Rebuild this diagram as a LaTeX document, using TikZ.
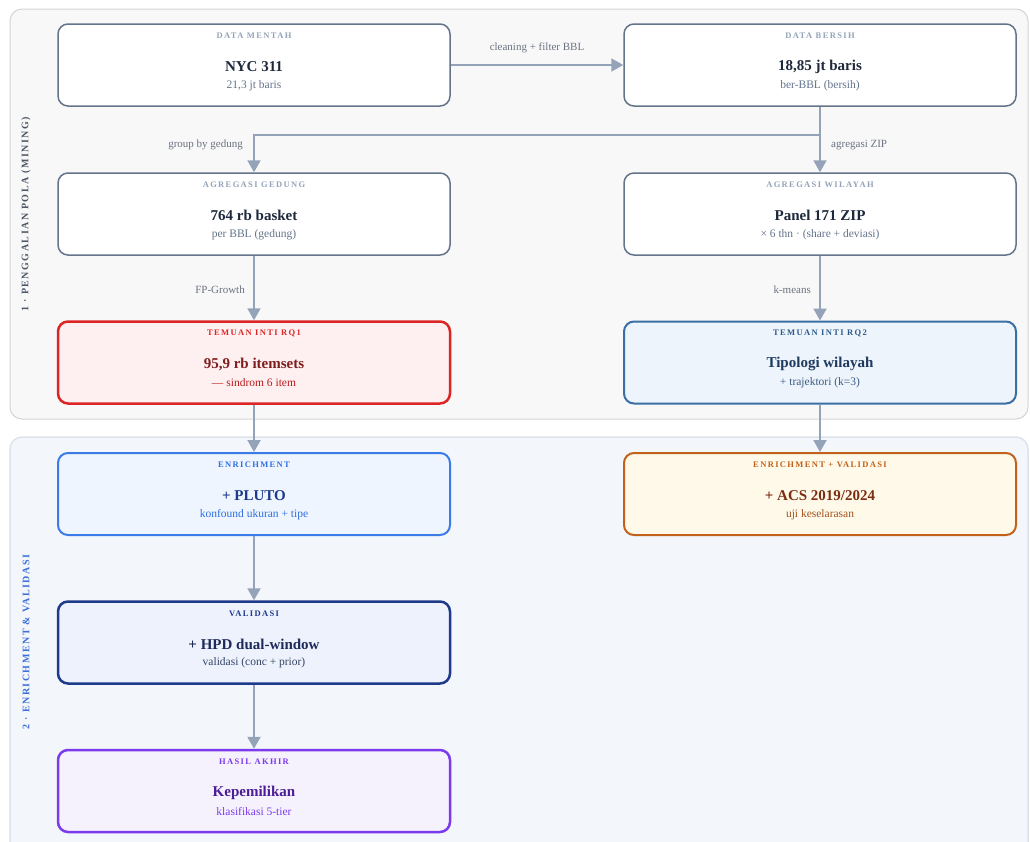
\documentclass[tikz,border=0pt]{standalone}
\usepackage{fontspec}
\setmainfont{Liberation Serif}
\newfontfamily\hdrfont[LetterSpace=16]{Liberation Serif}
\newfontfamily\sidefont[LetterSpace=15]{Liberation Serif}
\usetikzlibrary{arrows.meta}
\definecolor{panAbd}{HTML}{D4D4D8}
\definecolor{panAfill}{HTML}{F8F8F9}
\definecolor{panBbd}{HTML}{DDE3EC}
\definecolor{panBfill}{HTML}{F3F6FB}
\definecolor{arrc}{HTML}{94A3B8}
\definecolor{lblc}{HTML}{6B7280}
\definecolor{nbd}{HTML}{64748B}
\definecolor{nhd}{HTML}{94A3B8}
\definecolor{nti}{HTML}{1E293B}
\definecolor{nsu}{HTML}{64748B}
\definecolor{rbd}{HTML}{DC2626}
\definecolor{rfill}{HTML}{FEF0F0}
\definecolor{rti}{HTML}{7F1D1D}
\definecolor{rsu}{HTML}{B91C1C}
\definecolor{bbd}{HTML}{3B6EA5}
\definecolor{bfill}{HTML}{EDF4FC}
\definecolor{bhd}{HTML}{2C5A8A}
\definecolor{bti}{HTML}{1E3A5F}
\definecolor{bsu}{HTML}{3B5B80}
\definecolor{ebd}{HTML}{3B7BE8}
\definecolor{efill}{HTML}{EEF5FF}
\definecolor{ehd}{HTML}{2F6FE0}
\definecolor{eti}{HTML}{1E3A8A}
\definecolor{obd}{HTML}{C2621A}
\definecolor{ofill}{HTML}{FEF9E8}
\definecolor{oti}{HTML}{7C2D12}
\definecolor{osu}{HTML}{A0521F}
\definecolor{vbd}{HTML}{1E3A8A}
\definecolor{vfill}{HTML}{EEF2FC}
\definecolor{vti}{HTML}{1E2A5A}
\definecolor{vsu}{HTML}{334466}
\definecolor{pbd}{HTML}{7C3AED}
\definecolor{pfill}{HTML}{F5F2FE}
\definecolor{pti}{HTML}{4C1D95}
\definecolor{side1}{HTML}{4B5563}
\definecolor{side2}{HTML}{3B6FD8}
\tikzset{
  box/.style={rounded corners=10pt, minimum width=392pt, minimum height=82pt, inner sep=0pt},
  hdr/.style={font=\hdrfont\bfseries\fontsize{8.5}{9}\selectfont, inner sep=0pt, anchor=center},
  ttl/.style={font=\bfseries\fontsize{15}{17}\selectfont, inner sep=0pt, anchor=center},
  sub/.style={font=\fontsize{11.5}{13}\selectfont, inner sep=0pt, anchor=center},
  neutral/.style={draw=nbd, fill=white, line width=1.5pt},
  neutral h/.style={text=nhd}, neutral t/.style={text=nti}, neutral s/.style={text=nsu},
  red/.style={draw=rbd, fill=rfill, line width=2.5pt},
  red h/.style={text=rbd}, red t/.style={text=rti}, red s/.style={text=rsu},
  blu/.style={draw=bbd, fill=bfill, line width=2pt},
  blu h/.style={text=bhd}, blu t/.style={text=bti}, blu s/.style={text=bsu},
  enr/.style={draw=ebd, fill=efill, line width=2pt},
  enr h/.style={text=ehd}, enr t/.style={text=eti}, enr s/.style={text=ehd},
  org/.style={draw=obd, fill=ofill, line width=2pt},
  org h/.style={text=obd}, org t/.style={text=oti}, org s/.style={text=osu},
  val/.style={draw=vbd, fill=vfill, line width=2.5pt},
  val h/.style={text=vbd}, val t/.style={text=vti}, val s/.style={text=vsu},
  pur/.style={draw=pbd, fill=pfill, line width=2.5pt},
  pur h/.style={text=pbd}, pur t/.style={text=pti}, pur s/.style={text=pbd},
  arr/.style={draw=arrc, line width=2pt, -{Triangle[length=12pt,width=13pt]}},
  lbl/.style={font=\fontsize{11}{12}\selectfont, text=lblc, inner sep=0pt},
  sidelbl/.style={font=\sidefont\bfseries\fontsize{10}{11}\selectfont, inner sep=0pt, rotate=90},
}
\newcommand\mkbox[7]{%
  \node[box,#4] (#1) at (#2,#3) {};
  \node[hdr,#4 h] (#1-h) at (#2,#3-29) {#5};
  \node[ttl,#4 t] (#1-t) at (#2,#3+1.5) {#6};
  \node[sub,#4 s] (#1-s) at (#2,#3+20.5) {#7};
}
\begin{document}
\begin{tikzpicture}[x=1pt,y=-1pt]
\useasboundingbox (0,0) rectangle (1030,841);
\begin{scope}
  \clip (0,0) rectangle (1030,841);
  \draw[draw=panAbd, fill=panAfill, line width=1pt, rounded corners=12pt] (10,9) rectangle (1028,419);
  \draw[draw=panBbd, fill=panBfill, line width=1.5pt, rounded corners=12pt] (10,437) rectangle (1028,880);
\end{scope}
\node[sidelbl, text=side1] (side-a) at (26,214) {1 · PENGGALIAN POLA (MINING)};
\node[sidelbl, text=side2] (side-b) at (26,642) {2 · ENRICHMENT \& VALIDASI};

\mkbox{raw}{254}{65}{neutral}{DATA MENTAH}{NYC 311}{21,3 jt baris}
\mkbox{clean}{820}{65}{neutral}{DATA BERSIH}{18,85 jt baris}{ber-BBL (bersih)}
\mkbox{ged}{254}{214}{neutral}{AGREGASI GEDUNG}{764 rb basket}{per BBL (gedung)}
\mkbox{wil}{820}{214}{neutral}{AGREGASI WILAYAH}{Panel 171 ZIP}{× 6 thn · (share + deviasi)}
\mkbox{rq1}{254}{362.5}{red}{TEMUAN INTI RQ1}{95,9 rb itemsets}{— sindrom 6 item}
\mkbox{rq2}{820}{362.5}{blu}{TEMUAN INTI RQ2}{Tipologi wilayah}{+ trajektori (k=3)}
\mkbox{enr}{254}{494}{enr}{ENRICHMENT}{+ PLUTO}{konfound ukuran + tipe}
\mkbox{acs}{820}{494}{org}{ENRICHMENT + VALIDASI}{+ ACS 2019/2024}{uji keselarasan}
\mkbox{hpd}{254}{642.5}{val}{VALIDASI}{+ HPD dual-window}{validasi (conc + prior)}
\mkbox{own}{254}{791}{pur}{HASIL AKHIR}{Kepemilikan}{klasifikasi 5-tier}

\coordinate (split) at (820,135);
\draw[arr] (raw.east) -- node[lbl, above=11pt] (l-clean) {cleaning + filter BBL} (clean.west);
\draw[arr] (clean.south) -- (wil.north);
\draw[arr] (split) -| (ged.north);
\node[lbl, anchor=west] (l-zip) at (831,145) {agregasi ZIP};
\node[lbl, anchor=east] (l-grp) at (243,145) {group by gedung};
\draw[arr] (ged.south) -- (rq1.north);
\node[lbl, anchor=east] (l-fp) at (245,290) {FP-Growth};
\draw[arr] (wil.south) -- (rq2.north);
\node[lbl, anchor=east] (l-km) at (811,290) {k-means};
\draw[arr] (rq1.south) -- (enr.north);
\draw[arr] (rq2.south) -- (acs.north);
\draw[arr] (enr.south) -- (hpd.north);
\draw[arr] (hpd.south) -- (own.north);
\end{tikzpicture}
\end{document}
